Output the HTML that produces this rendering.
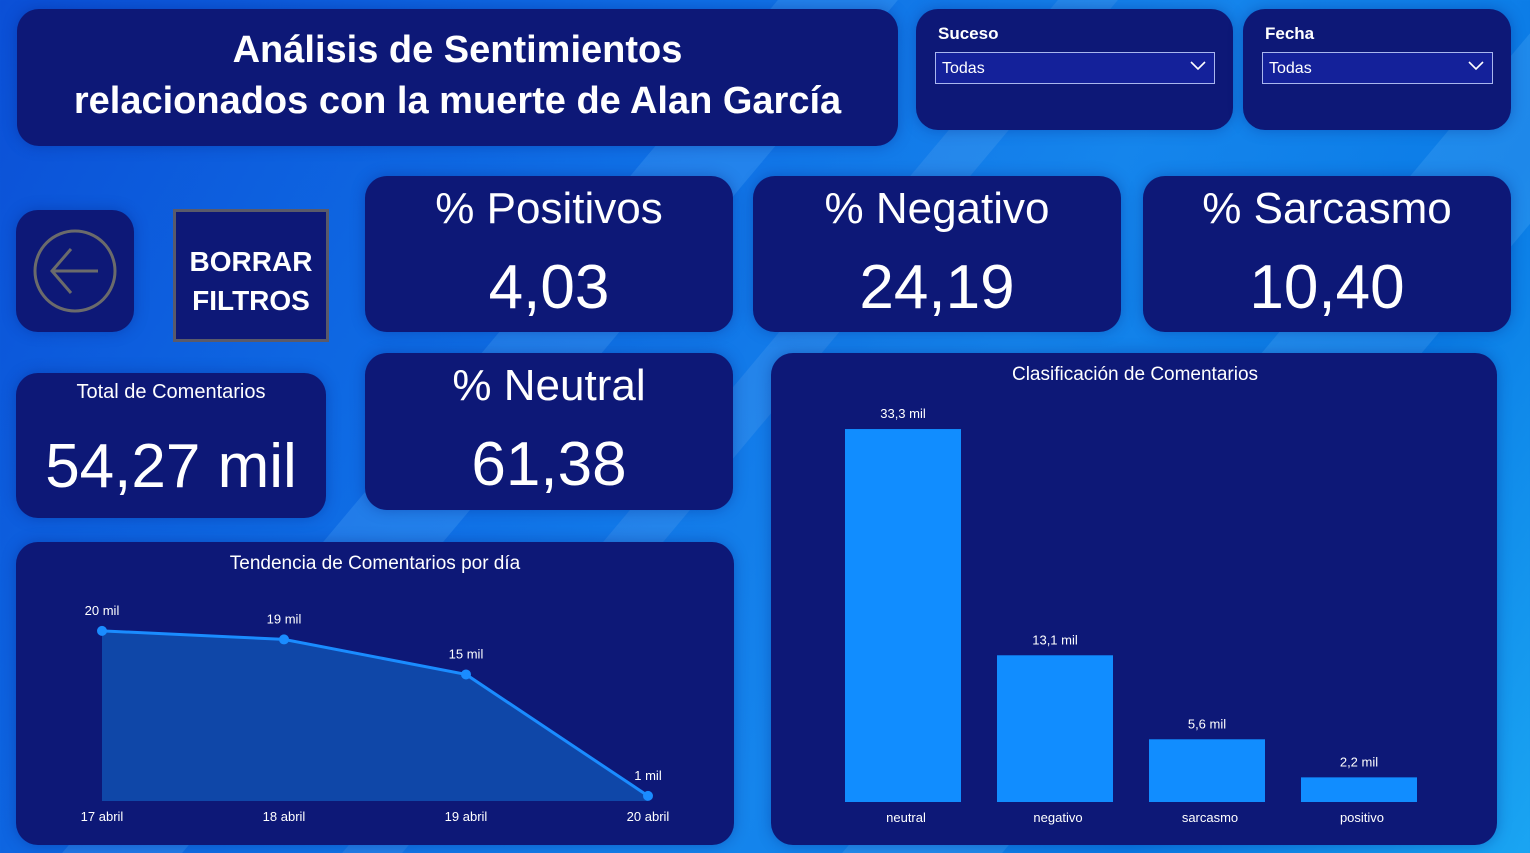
<!DOCTYPE html>
<html><head><meta charset="utf-8"><style>
*{margin:0;padding:0;box-sizing:border-box}
body{width:1530px;height:853px;overflow:hidden;position:relative;font-family:"Liberation Sans",sans-serif;color:#fff;
background:linear-gradient(120deg,#0b4fd6 0%,#0f6fe6 35%,#1585ec 60%,#0a7be6 80%,#1aa5f2 100%);}
.stripe{position:absolute;background:rgba(120,200,255,0.18);transform:skewX(-40deg)}
.p{position:absolute;background:#0d1877;border-radius:22px;box-shadow:0 0 14px rgba(0,30,120,0.35)}
.c{text-align:center;position:absolute;left:0;right:0}
.sel{position:absolute;border:1px solid #a9b6ee;background:#14219a;height:32px;font-size:16px;padding:7px 6px}
.chev{position:absolute;right:8px;top:8px;width:16px;height:10px}
</style></head><body>
<div class="stripe" style="left:420px;top:0;width:120px;height:853px"></div>
<div class="stripe" style="left:1200px;top:0;width:160px;height:853px"></div>
<div class="stripe" style="left:700px;top:0;width:60px;height:853px;background:rgba(255,255,255,0.08)"></div>

<div class="p" style="left:17px;top:9px;width:881px;height:137px">
<div class="c" style="top:16px;font-size:38px;font-weight:bold;line-height:51px">Análisis de Sentimientos<br>relacionados con la muerte de Alan García</div></div>

<div class="p" style="left:916px;top:9px;width:317px;height:121px">
<div style="position:absolute;left:22px;top:15px;font-size:17px;font-weight:bold">Suceso</div>
<div class="sel" style="left:19px;top:43px;width:280px">Todas<svg class="chev" viewBox="0 0 16 10"><path d="M1 1L8 8L15 1" fill="none" stroke="#fff" stroke-width="1.6"/></svg></div></div>
<div class="p" style="left:1243px;top:9px;width:268px;height:121px">
<div style="position:absolute;left:22px;top:15px;font-size:17px;font-weight:bold">Fecha</div>
<div class="sel" style="left:19px;top:43px;width:231px">Todas<svg class="chev" viewBox="0 0 16 10"><path d="M1 1L8 8L15 1" fill="none" stroke="#fff" stroke-width="1.6"/></svg></div></div>

<div class="p" style="left:16px;top:210px;width:118px;height:122px">
<svg width="118" height="122"><circle cx="59" cy="61" r="40" fill="none" stroke="#6b6b6b" stroke-width="3"/><path d="M36 61H82M55 39L36 61L55 83" fill="none" stroke="#6b6b6b" stroke-width="3"/></svg></div>
<div style="position:absolute;left:173px;top:209px;width:156px;height:133px;background:#0d1877;border:3px solid #5a5a6a;text-align:center;padding-top:30px;font-size:28px;font-weight:bold;line-height:39px">BORRAR<br>FILTROS</div>

<div class="p" style="left:365px;top:176px;width:368px;height:156px"><div class="c" style="top:8px;font-size:44px">% Positivos</div><div class="c" style="top:76px;font-size:62px">4,03</div></div>
<div class="p" style="left:753px;top:176px;width:368px;height:156px"><div class="c" style="top:8px;font-size:44px">% Negativo</div><div class="c" style="top:76px;font-size:62px">24,19</div></div>
<div class="p" style="left:1143px;top:176px;width:368px;height:156px"><div class="c" style="top:8px;font-size:44px">% Sarcasmo</div><div class="c" style="top:76px;font-size:62px">10,40</div></div>
<div class="p" style="left:16px;top:373px;width:310px;height:145px"><div class="c" style="top:8px;font-size:20px">Total de Comentarios</div><div class="c" style="top:58px;font-size:62px">54,27 mil</div></div>
<div class="p" style="left:365px;top:353px;width:368px;height:157px"><div class="c" style="top:8px;font-size:44px">% Neutral</div><div class="c" style="top:76px;font-size:62px">61,38</div></div>

<div class="p" style="left:16px;top:542px;width:718px;height:303px"></div>
<div class="p" style="left:771px;top:353px;width:726px;height:492px"></div>
<svg id="ch" width="1530" height="853" style="position:absolute;left:0;top:0" font-family="Liberation Sans, sans-serif" fill="#fff">
<text x="375" y="569" text-anchor="middle" font-size="19">Tendencia de Comentarios por día</text>
<text x="1135" y="380" text-anchor="middle" font-size="19">Clasificación de Comentarios</text>
</svg>
<script>
const days=["17 abril","18 abril","19 abril","20 abril"];
const dayVals=[19.9,18.9,14.8,0.6];
const dayLabels=["20 mil","19 mil","15 mil","1 mil"];
const cats=["neutral","negativo","sarcasmo","positivo"];
const catVals=[33.3,13.1,5.6,2.2];
const catLabels=["33,3 mil","13,1 mil","5,6 mil","2,2 mil"];
const NS="http://www.w3.org/2000/svg",svg=document.getElementById('ch');
function mk(t,a,txt){const e=document.createElementNS(NS,t);for(const k in a)e.setAttribute(k,a[k]);if(txt)e.textContent=txt;svg.appendChild(e);return e;}
const lx=i=>102+i*182, ly=v=>801-v*8.55;
let pts=dayVals.map((v,i)=>lx(i)+","+ly(v)).join(" ");
let area=mk('polygon',{points:lx(0)+",801 "+pts+" "+lx(3)+",801",fill:"#0f47a8"});


let line=mk('polyline',{points:pts,fill:"none",stroke:"#1a8cff","stroke-width":3});


dayVals.forEach((v,i)=>{
 let c=mk('circle',{cx:lx(i),cy:ly(v),r:5,fill:"#1a8cff"});
 
 
 let t=mk('text',{x:lx(i),y:ly(v)-16,"text-anchor":"middle","font-size":13},dayLabels[i]);
 
 
 let d=mk('text',{x:lx(i),y:821,"text-anchor":"middle","font-size":13},days[i]);
 
 
});
const bx=i=>845+i*152, by=v=>802-v*11.2;
catVals.forEach((v,i)=>{
 let r=mk('rect',{x:bx(i),y:by(v),width:116,height:802-by(v),fill:"#118dff"});
 
 
 let t=mk('text',{x:bx(i)+58,y:by(v)-11,"text-anchor":"middle","font-size":13},catLabels[i]);
 
 
 let c=mk('text',{x:bx(i)+61,y:822,"text-anchor":"middle","font-size":13},cats[i]);
 
 
});
</script>
</body></html>
